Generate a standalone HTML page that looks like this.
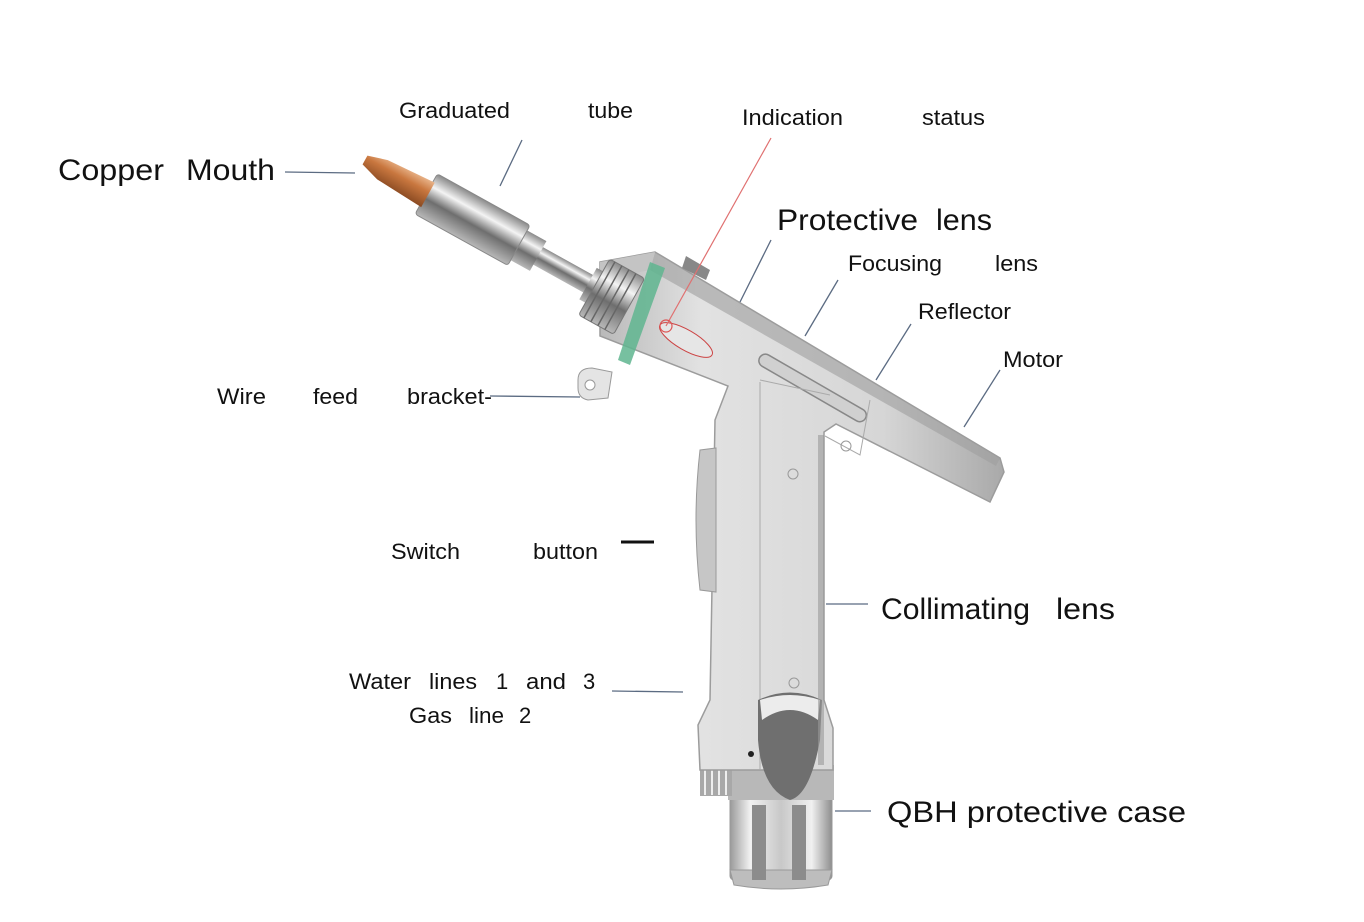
<!DOCTYPE html>
<html><head><meta charset="utf-8"><style>
html,body{margin:0;padding:0;background:#fff;}
svg{display:block;}
text{font-family:"Liberation Sans",Arial,sans-serif;fill:#111;}
.b{font-size:30px;}
.s{font-size:22px;}
.l{stroke:#5b6b82;stroke-width:1.3;fill:none;}
</style></head><body>
<svg width="1364" height="922" viewBox="0 0 1364 922" xmlns="http://www.w3.org/2000/svg">
<defs>
<linearGradient id="cu" x1="0" y1="0" x2="0" y2="1">
<stop offset="0" stop-color="#e9b48a"/><stop offset="0.4" stop-color="#c9773f"/><stop offset="1" stop-color="#8a4a22"/></linearGradient>
<linearGradient id="st" x1="0" y1="0" x2="0" y2="1">
<stop offset="0" stop-color="#8a8a8a"/><stop offset="0.3" stop-color="#f4f4f4"/><stop offset="0.6" stop-color="#6e6e6e"/><stop offset="1" stop-color="#b8b8b8"/></linearGradient>
<linearGradient id="hd" x1="0" y1="0" x2="1" y2="0">
<stop offset="0" stop-color="#b9b9b9"/><stop offset="0.25" stop-color="#e2e2e2"/><stop offset="0.7" stop-color="#d6d6d6"/><stop offset="1" stop-color="#a9a9a9"/></linearGradient>
<linearGradient id="qb" x1="0" y1="0" x2="1" y2="0">
<stop offset="0" stop-color="#9a9a9a"/><stop offset="0.2" stop-color="#f2f2f2"/><stop offset="0.5" stop-color="#c8c8c8"/><stop offset="0.8" stop-color="#f0f0f0"/><stop offset="1" stop-color="#8e8e8e"/></linearGradient>
</defs>

<rect x="730" y="795" width="102" height="85" rx="4" fill="url(#qb)" stroke="#999"/>
<path d="M730 870 L832 870 L828 885 Q781 893 734 885 Z" fill="#bdbdbd" stroke="#999"/>
<rect x="752" y="805" width="14" height="75" fill="#8c8c8c"/>
<rect x="792" y="805" width="14" height="75" fill="#8c8c8c"/>
<rect x="728" y="765" width="106" height="35" fill="#b8b8b8"/>
<rect x="700" y="766" width="32" height="30" fill="#a8a8a8"/>
<g stroke="#eee" stroke-width="2"><line x1="705" y1="770" x2="705" y2="795"/><line x1="712" y1="770" x2="712" y2="795"/><line x1="719" y1="770" x2="719" y2="795"/><line x1="726" y1="770" x2="726" y2="795"/></g>

<path d="M600 262 L655 252 L1000 458 L1004 472 L990 502 L836 424 L824 432 L824 700 L833 728 L833 770 L700 770 L698 725 L710 700 L715 420 L728 386 L600 336 Z" fill="url(#hd)" stroke="#9c9c9c" stroke-width="1.5"/>
<path d="M655 252 L1000 458 L996 466 L650 270 Z" fill="#9e9e9e" opacity="0.6"/>
<path d="M600 262 L655 252 L650 270 L600 280 Z" fill="#c4c4c4"/>
<g transform="translate(760,357) rotate(30)"><rect x="0" y="-6" width="122" height="13" rx="6.5" fill="#d0d0d0" stroke="#888" stroke-width="1.5"/></g>
<path d="M760 382 L760 770 M870 400 L860 455 L825 436 M760 380 L830 395" stroke="#aaa" fill="none"/>
<circle cx="793" cy="474" r="5" fill="none" stroke="#999"/>
<circle cx="846" cy="446" r="5" fill="none" stroke="#999"/>
<circle cx="794" cy="683" r="5" fill="none" stroke="#999"/>
<path d="M758 700 Q790 685 822 700 L820 740 Q810 795 790 800 Q762 790 758 740 Z" fill="#6f6f6f"/>
<path d="M760 700 Q790 690 820 700 L818 720 Q790 700 762 720 Z" fill="#ececec"/>
<circle cx="751" cy="754" r="3" fill="#222"/>
<path d="M700 450 L716 448 L716 592 L700 590 Q692 520 700 450 Z" fill="#c6c6c6" stroke="#999"/>
<rect x="818" y="435" width="6" height="330" fill="#9a9a9a" opacity="0.6"/>
<path d="M650 262 L665 268 L630 365 L618 360 Z" fill="#5fb58f" opacity="0.85"/>
<g transform="translate(686,340) rotate(30)"><ellipse cx="0" cy="0" rx="30" ry="10" fill="#e6e6e6" stroke="#c44" stroke-width="1"/></g>
<path d="M686 256 L710 270 L706 280 L682 268 Z" fill="#888"/>
<path d="M578 380 Q578 368 592 368 L612 372 L608 398 L588 400 Q578 398 578 388 Z" fill="#e4e4e4" stroke="#9a9a9a"/>
<circle cx="590" cy="385" r="5" fill="#fff" stroke="#999"/>

<g transform="translate(365,160) rotate(29)">
<rect x="195" y="-10" width="70" height="20" fill="url(#st)"/>
<rect x="172" y="-17" width="26" height="34" fill="url(#st)"/>
<rect x="70" y="-23" width="106" height="46" rx="3" fill="url(#st)" stroke="#888"/>
<path d="M0 -5 L20 -11 L72 -14 L72 14 L20 11 L0 5 Z" fill="url(#cu)"/>
<rect x="255" y="-18" width="14" height="36" fill="url(#st)"/>
<rect x="262" y="-32" width="40" height="64" rx="3" fill="url(#st)" stroke="#777"/>
<g stroke="#666" stroke-width="1.5"><line x1="268" y1="-32" x2="268" y2="32"/><line x1="276" y1="-32" x2="276" y2="32"/><line x1="284" y1="-32" x2="284" y2="32"/><line x1="292" y1="-32" x2="292" y2="32"/></g>
</g>

<line class="l" x1="285" y1="172" x2="355" y2="173"/>
<line class="l" x1="522" y1="140" x2="500" y2="186"/>
<line x1="771" y1="138" x2="666" y2="326" stroke="#e07070" stroke-width="1.2"/>
<circle cx="666" cy="326" r="6" fill="none" stroke="#d55" stroke-width="1.2"/>
<line class="l" x1="771" y1="240" x2="740" y2="302"/>
<line class="l" x1="838" y1="280" x2="805" y2="336"/>
<line class="l" x1="911" y1="324" x2="876" y2="380"/>
<line class="l" x1="1000" y1="370" x2="964" y2="427"/>
<line class="l" x1="490" y1="396" x2="580" y2="397"/>
<line x1="621" y1="542" x2="654" y2="542" stroke="#111" stroke-width="3"/>
<line class="l" x1="826" y1="604" x2="868" y2="604"/>
<line class="l" x1="612" y1="691" x2="683" y2="692"/>
<line class="l" x1="835" y1="811" x2="871" y2="811"/>

<g lengthAdjust="spacingAndGlyphs">
<text class="b" x="58" y="180" textLength="106" lengthAdjust="spacingAndGlyphs">Copper</text><text class="b" x="186" y="180" textLength="89" lengthAdjust="spacingAndGlyphs">Mouth</text>
<text class="s" x="399" y="118" textLength="111" lengthAdjust="spacingAndGlyphs">Graduated</text><text class="s" x="588" y="118" textLength="45" lengthAdjust="spacingAndGlyphs">tube</text>
<text class="s" x="742" y="125" textLength="101" lengthAdjust="spacingAndGlyphs">Indication</text><text class="s" x="922" y="125" textLength="63" lengthAdjust="spacingAndGlyphs">status</text>
<text class="b" x="777" y="230" textLength="141" lengthAdjust="spacingAndGlyphs">Protective</text><text class="b" x="936" y="230" textLength="56" lengthAdjust="spacingAndGlyphs">lens</text>
<text class="s" x="848" y="271" textLength="94" lengthAdjust="spacingAndGlyphs">Focusing</text><text class="s" x="995" y="271" textLength="43" lengthAdjust="spacingAndGlyphs">lens</text>
<text class="s" x="918" y="319" textLength="93" lengthAdjust="spacingAndGlyphs">Reflector</text>
<text class="s" x="1003" y="367" textLength="60" lengthAdjust="spacingAndGlyphs">Motor</text>
<text class="s" x="217" y="404" textLength="49" lengthAdjust="spacingAndGlyphs">Wire</text><text class="s" x="313" y="404" textLength="45" lengthAdjust="spacingAndGlyphs">feed</text><text class="s" x="407" y="404" textLength="85" lengthAdjust="spacingAndGlyphs">bracket-</text>
<text class="s" x="391" y="559" textLength="69" lengthAdjust="spacingAndGlyphs">Switch</text><text class="s" x="533" y="559" textLength="65" lengthAdjust="spacingAndGlyphs">button</text>
<text class="b" x="881" y="619" textLength="149" lengthAdjust="spacingAndGlyphs">Collimating</text><text class="b" x="1056" y="619" textLength="59" lengthAdjust="spacingAndGlyphs">lens</text>
<text class="s" x="349" y="689" textLength="62" lengthAdjust="spacingAndGlyphs">Water</text><text class="s" x="429" y="689" textLength="48" lengthAdjust="spacingAndGlyphs">lines</text><text class="s" x="496" y="689">1</text><text class="s" x="526" y="689" textLength="40" lengthAdjust="spacingAndGlyphs">and</text><text class="s" x="583" y="689">3</text>
<text class="s" x="409" y="723" textLength="43" lengthAdjust="spacingAndGlyphs">Gas</text><text class="s" x="469" y="723" textLength="35" lengthAdjust="spacingAndGlyphs">line</text><text class="s" x="519" y="723">2</text>
<text class="b" x="887" y="822" textLength="299" lengthAdjust="spacingAndGlyphs">QBH protective case</text>
</g>
</svg>
</body></html>
